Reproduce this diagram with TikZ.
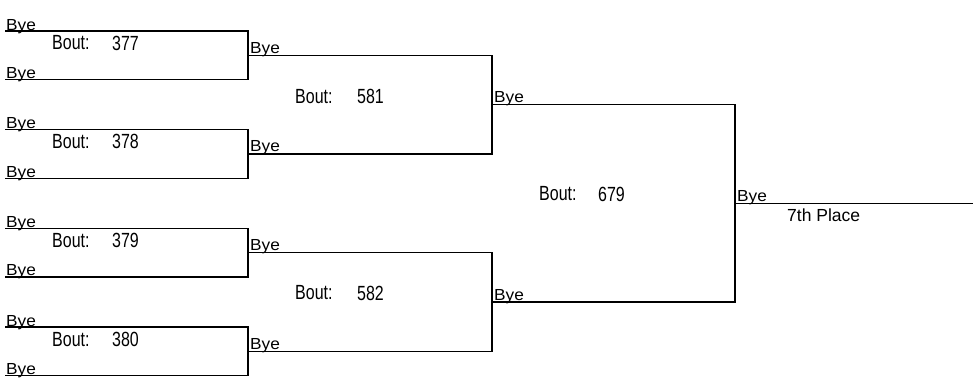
\documentclass[tikz,border=0pt]{standalone}
\usepackage{fontspec}
\setmainfont{Liberation Sans}
\newfontfamily\boutfont[FakeStretch=0.78]{Liberation Sans}
\newfontfamily\byefont[FakeStretch=1.08]{Liberation Sans}
\begin{document}
\begin{tikzpicture}[x=1pt,y=-1pt,
  wire/.style={line width=1.3pt,line join=miter},
  bye/.style={font=\byefont\fontsize{16}{16}\selectfont,anchor=base west,inner sep=0pt},
  bout/.style={font=\boutfont\fontsize{20.5}{20.5}\selectfont,anchor=west,inner sep=0pt},
  place/.style={font=\fontsize{17.5}{17.5}\selectfont,anchor=west,inner sep=0pt}]
\useasboundingbox (0,0) rectangle (973,381);
% round 1 bouts: name / top / bottom
\foreach \n/\t/\b in {377/31/79.5,378/129.7/178.2,379/228.4/276.9,380/327.1/375.6}{
  \coordinate (b\n tl) at (5,\t);
  \coordinate (b\n tr) at (248,\t);
  \coordinate (b\n bl) at (5,\b);
  \coordinate (b\n br) at (248,\b);
  \draw[wire] (b\n tl) -- (b\n tr) -- (b\n br) -- (b\n bl);
  \node[bye] (b\n u) at ([shift={(1,-1)}]b\n tl) {Bye};
  \node[bye] (b\n d) at ([shift={(1,-1)}]b\n bl) {Bye};
  \node[bout] (b\n lab) at ([shift={(47,12)}]b\n tl) {Bout:};
  \node[bout] (b\n num) at ([shift={(107,12)}]b\n tl) {\n};
}
% round 2 bouts
\foreach \n/\t/\b/\o in {581/55.25/153.95/-8,582/252.65/351.25/-9}{
  \coordinate (b\n tl) at (248,\t);
  \coordinate (b\n tr) at (492,\t);
  \coordinate (b\n bl) at (248,\b);
  \coordinate (b\n br) at (492,\b);
  \draw[wire] (b\n tl) -- (b\n tr) -- (b\n br) -- (b\n bl);
  \node[bye] (b\n u) at ([shift={(2,-2)}]b\n tl) {Bye};
  \node[bye] (b\n d) at ([shift={(2,-2)}]b\n bl) {Bye};
  \pgfmathsetmacro\m{(\b-\t)/2+\o}
  \node[bout] (b\n lab) at ([shift={(47,\m)}]b\n tl) {Bout:};
  \node[bout] (b\n num) at ([shift={(109,\m)}]b\n tl) {\n};
}
% round 3 bout
\coordinate (b679tl) at (492,104.6);
\coordinate (b679tr) at (735,104.6);
\coordinate (b679bl) at (492,302);
\coordinate (b679br) at (735,302);
\draw[wire] (b679tl) -- (b679tr) -- (b679br) -- (b679bl);
\node[bye] (b679u) at ([shift={(2,-2)}]b679tl) {Bye};
\node[bye] (b679d) at ([shift={(2,-2)}]b679bl) {Bye};
\node[bout] (b679lab) at (539,194) {Bout:};
\node[bout] (b679num) at (598,194) {679};
% final
\coordinate (fin l) at (735,203.3);
\coordinate (fin r) at (973,203.3);
\draw[wire] (fin l) -- (fin r);
\node[bye] (finbye) at ([shift={(2,-2)}]fin l) {Bye};
\node[place] (finlab) at (787,215) {7th Place};
\end{tikzpicture}
\end{document}
